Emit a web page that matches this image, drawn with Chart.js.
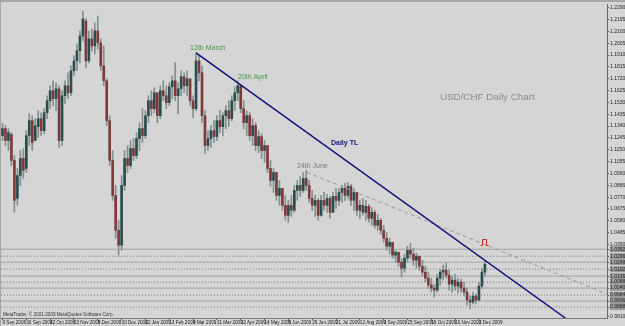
<!DOCTYPE html>
<html>
<head>
<meta charset="utf-8">
<title>USD/CHF Daily Chart</title>
<script src="https://cdn.jsdelivr.net/npm/chart.js@4.4.1/dist/chart.umd.min.js"></script>
<style>
  html, body { margin: 0; padding: 0; background: #d5d5d5; }
  canvas { display: block; }
</style>
</head>
<body>
<canvas id="chart" width="625" height="326"></canvas>
<script>
// Daily bars, Sep 2008 - Dec 2009 (each bar ~2 sessions)
const opens = [
  1.1264, 1.1320, 1.1224, 1.1272, 1.1064, 1.0760, 1.0944, 1.1080, 1.1000, 1.1264,
  1.1384, 1.1224, 1.1336, 1.1400, 1.1304, 1.1448, 1.1544, 1.1624, 1.1560, 1.1640,
  1.1224, 1.1584, 1.1664, 1.1608, 1.1784, 1.1864, 1.1944, 1.2064, 1.2184, 1.1864,
  1.2040, 1.1984, 1.2104, 1.2008, 1.1824, 1.1704, 1.1384, 1.1064, 1.0784, 1.0504,
  1.0384, 1.0864, 1.1080, 1.1024, 1.1160, 1.1104, 1.1240, 1.1320, 1.1264, 1.1424,
  1.1544, 1.1480, 1.1608, 1.1424, 1.1624, 1.1584, 1.1528, 1.1656, 1.1704, 1.1584,
  1.1640, 1.1736, 1.1664, 1.1720, 1.1544, 1.1480, 1.1864, 1.1768, 1.1424, 1.1184,
  1.1240, 1.1304, 1.1256, 1.1384, 1.1336, 1.1424, 1.1464, 1.1400, 1.1544, 1.1608,
  1.1664, 1.1480, 1.1368, 1.1424, 1.1264, 1.1344, 1.1184, 1.1256, 1.1144, 1.1184,
  1.1000, 1.0904, 1.0968, 1.0784, 1.0840, 1.0704, 1.0624, 1.0704, 1.0664, 1.0824,
  1.0864, 1.0824, 1.0920, 1.0864, 1.0760, 1.0704, 1.0744, 1.0624, 1.0744, 1.0704,
  1.0760, 1.0648, 1.0776, 1.0744, 1.0808, 1.0840, 1.0784, 1.0856, 1.0744, 1.0808,
  1.0664, 1.0704, 1.0648, 1.0696, 1.0600, 1.0648, 1.0544, 1.0584, 1.0504, 1.0440,
  1.0376, 1.0408, 1.0304, 1.0328, 1.0248, 1.0200, 1.0280, 1.0344, 1.0312, 1.0264,
  1.0296, 1.0216, 1.0168, 1.0120, 1.0064, 1.0040, 1.0024, 1.0120, 1.0168, 1.0184,
  1.0144, 1.0072, 1.0104, 1.0056, 1.0088, 1.0040, 1.0008, 0.9944, 0.9928, 0.9976,
  0.9944, 1.0056, 1.0168
];
const highs = [
  1.1360, 1.1344, 1.1320, 1.1288, 1.1104, 1.1000, 1.1144, 1.1160, 1.1304, 1.1440,
  1.1424, 1.1400, 1.1464, 1.1448, 1.1480, 1.1584, 1.1664, 1.1704, 1.1688, 1.1664,
  1.1624, 1.1704, 1.1768, 1.1824, 1.1904, 1.2000, 1.2104, 1.2264, 1.2200, 1.2104,
  1.2120, 1.2168, 1.2224, 1.2040, 1.1984, 1.1720, 1.1424, 1.1144, 1.0864, 1.0584,
  1.0944, 1.1144, 1.1184, 1.1224, 1.1240, 1.1288, 1.1368, 1.1480, 1.1464, 1.1584,
  1.1624, 1.1648, 1.1608, 1.1664, 1.1704, 1.1664, 1.1688, 1.1744, 1.1848, 1.1688,
  1.1784, 1.1768, 1.1784, 1.1720, 1.1584, 1.1928, 1.1904, 1.1824, 1.1464, 1.1304,
  1.1344, 1.1384, 1.1424, 1.1464, 1.1448, 1.1504, 1.1544, 1.1584, 1.1656, 1.1704,
  1.1672, 1.1544, 1.1464, 1.1448, 1.1400, 1.1368, 1.1304, 1.1280, 1.1224, 1.1184,
  1.1064, 1.1000, 1.0968, 1.0904, 1.0840, 1.0784, 1.0744, 1.0784, 1.0864, 1.0904,
  1.0936, 1.0968, 1.0984, 1.0904, 1.0824, 1.0784, 1.0760, 1.0784, 1.0808, 1.0792,
  1.0776, 1.0808, 1.0840, 1.0840, 1.0864, 1.0880, 1.0888, 1.0872, 1.0840, 1.0808,
  1.0744, 1.0760, 1.0744, 1.0712, 1.0688, 1.0664, 1.0632, 1.0600, 1.0544, 1.0488,
  1.0440, 1.0408, 1.0344, 1.0328, 1.0280, 1.0312, 1.0376, 1.0400, 1.0360, 1.0320,
  1.0296, 1.0264, 1.0216, 1.0168, 1.0120, 1.0072, 1.0152, 1.0192, 1.0224, 1.0240,
  1.0184, 1.0136, 1.0152, 1.0120, 1.0112, 1.0088, 1.0040, 0.9976, 1.0008, 0.9992,
  1.0088, 1.0200, 1.0256
];
const lows = [
  1.1224, 1.1184, 1.1144, 1.1024, 1.0648, 1.0704, 1.0864, 1.0920, 1.0968, 1.1184,
  1.1144, 1.1224, 1.1248, 1.1264, 1.1280, 1.1400, 1.1480, 1.1504, 1.1464, 1.1168,
  1.1184, 1.1520, 1.1560, 1.1584, 1.1744, 1.1784, 1.1848, 1.2024, 1.1808, 1.1848,
  1.1944, 1.1920, 1.1960, 1.1784, 1.1664, 1.1344, 1.1024, 1.0744, 1.0440, 1.0304,
  1.0344, 1.0824, 1.0968, 1.1000, 1.1064, 1.1080, 1.1144, 1.1208, 1.1240, 1.1368,
  1.1424, 1.1448, 1.1368, 1.1400, 1.1544, 1.1480, 1.1504, 1.1560, 1.1544, 1.1440,
  1.1584, 1.1608, 1.1584, 1.1504, 1.1408, 1.1464, 1.1704, 1.1368, 1.1120, 1.1144,
  1.1168, 1.1208, 1.1224, 1.1288, 1.1264, 1.1320, 1.1336, 1.1384, 1.1464, 1.1544,
  1.1448, 1.1320, 1.1264, 1.1224, 1.1184, 1.1144, 1.1128, 1.1080, 1.1048, 1.0968,
  1.0856, 1.0808, 1.0744, 1.0704, 1.0664, 1.0584, 1.0568, 1.0616, 1.0648, 1.0744,
  1.0776, 1.0808, 1.0824, 1.0728, 1.0664, 1.0616, 1.0584, 1.0616, 1.0664, 1.0648,
  1.0600, 1.0648, 1.0680, 1.0704, 1.0728, 1.0744, 1.0760, 1.0704, 1.0664, 1.0624,
  1.0600, 1.0624, 1.0584, 1.0568, 1.0544, 1.0520, 1.0504, 1.0472, 1.0408, 1.0344,
  1.0312, 1.0280, 1.0248, 1.0216, 1.0128, 1.0168, 1.0248, 1.0280, 1.0224, 1.0200,
  1.0184, 1.0136, 1.0088, 1.0040, 1.0008, 0.9968, 1.0008, 1.0064, 1.0104, 1.0120,
  1.0024, 1.0008, 1.0024, 1.0000, 1.0008, 0.9976, 0.9904, 0.9872, 0.9912, 0.9912,
  0.9936, 1.0040, 1.0136
];
const closes = [
  1.1320, 1.1224, 1.1288, 1.1064, 1.0744, 1.0944, 1.1080, 1.0984, 1.1264, 1.1384,
  1.1208, 1.1344, 1.1400, 1.1304, 1.1448, 1.1544, 1.1624, 1.1560, 1.1640, 1.1224,
  1.1584, 1.1664, 1.1608, 1.1784, 1.1864, 1.1944, 1.2064, 1.2200, 1.1864, 1.2040,
  1.1984, 1.2104, 1.2008, 1.1824, 1.1704, 1.1384, 1.1064, 1.0784, 1.0504, 1.0384,
  1.0864, 1.1080, 1.1024, 1.1160, 1.1104, 1.1240, 1.1320, 1.1264, 1.1424, 1.1544,
  1.1480, 1.1608, 1.1424, 1.1624, 1.1584, 1.1528, 1.1656, 1.1704, 1.1584, 1.1640,
  1.1736, 1.1664, 1.1720, 1.1544, 1.1480, 1.1864, 1.1768, 1.1424, 1.1184, 1.1240,
  1.1304, 1.1256, 1.1384, 1.1336, 1.1424, 1.1464, 1.1400, 1.1544, 1.1608, 1.1664,
  1.1480, 1.1368, 1.1424, 1.1264, 1.1344, 1.1184, 1.1256, 1.1144, 1.1184, 1.1000,
  1.0904, 1.0968, 1.0784, 1.0840, 1.0704, 1.0624, 1.0704, 1.0664, 1.0824, 1.0864,
  1.0824, 1.0920, 1.0864, 1.0760, 1.0704, 1.0744, 1.0624, 1.0744, 1.0704, 1.0760,
  1.0648, 1.0776, 1.0744, 1.0808, 1.0840, 1.0784, 1.0856, 1.0744, 1.0808, 1.0664,
  1.0704, 1.0648, 1.0696, 1.0600, 1.0648, 1.0544, 1.0584, 1.0504, 1.0440, 1.0376,
  1.0408, 1.0304, 1.0328, 1.0248, 1.0200, 1.0280, 1.0344, 1.0312, 1.0264, 1.0296,
  1.0216, 1.0168, 1.0120, 1.0064, 1.0040, 1.0024, 1.0120, 1.0168, 1.0184, 1.0144,
  1.0072, 1.0104, 1.0056, 1.0088, 1.0040, 1.0008, 0.9944, 0.9928, 0.9976, 0.9944,
  1.0056, 1.0168, 1.0232
];

// Time axis labels (bar index -> date)
const tickIdx = [0, 8, 16, 24, 32, 40, 48, 56, 64, 72, 80, 88, 96, 104, 112, 120, 128, 136, 144, 152, 160];
const tickLabels = [
  '9 Sep 2008', '30 Sep 2008', '22 Oct 2008', '13 Nov 2008', '5 Dec 2008', '30 Dec 2008',
  '22 Jan 2009', '13 Feb 2009', '9 Mar 2009', '31 Mar 2009', '22 Apr 2009', '14 May 2009',
  '5 Jun 2009', '29 Jun 2009', '21 Jul 2009', '12 Aug 2009', '3 Sep 2009', '25 Sep 2009',
  '19 Oct 2009', '10 Nov 2009', '2 Dec 2009'
];

// Price axis labels
const priceTicks = [
  1.2290, 1.2195, 1.2100, 1.2005, 1.1910, 1.1815, 1.1720, 1.1625, 1.1530, 1.1435, 1.1340,
  1.1245, 1.1150, 1.1055, 1.0960, 1.0865, 1.0770, 1.0675, 1.0580, 1.0485, 1.0390, 0.9810
];

// Horizontal price levels
const levels = [1.0352, 1.0296, 1.0248, 1.0192, 1.0136, 1.0088, 1.0040, 0.9984, 0.9936, 0.9888];

// Trend lines: [barIndex, price]
const dailyTL = [[65, 1.1928], [189, 0.9800]];
const juneLine = [[102.3, 1.0968], [203, 0.9992]];

const X_MIN = -0.5, X_MAX = 203;
const Y_MIN = 0.9800, Y_MAX = 1.2320;

// Chart text notes, positioned in data units
const notes = [
  { text: '12th March', x: 63, y: 1.1968, color: '#3f9a3f', font: '7px "Liberation Sans", Arial' },
  { text: '20th April', x: 79.1, y: 1.1736, color: '#3f9a3f', font: '7px "Liberation Sans", Arial' },
  { text: '24th June', x: 98.9, y: 1.1016, color: '#7c7c7c', font: '7px "Liberation Sans", Arial' },
  { text: 'Daily TL', x: 110.3, y: 1.1200, color: '#16167e', font: 'bold 7px "Liberation Sans", Arial' },
  { text: 'USD/CHF Daily Chart', x: 146.9, y: 1.1568, color: '#8a8a8a', font: '9.8px "Liberation Sans", Arial' }
];

const bull = closes.map((c, i) => c >= opens[i]);

const backgroundPlugin = {
  id: 'mtBackground',
  beforeDraw(chart) {
    const ctx = chart.ctx;
    ctx.save();
    ctx.fillStyle = '#d5d5d5';
    ctx.fillRect(0, 0, chart.width, chart.height);
    ctx.fillStyle = '#a6a6a6';
    ctx.fillRect(0, 0, chart.width, 2);
    ctx.fillRect(0, 0, 1, chart.height);
    ctx.restore();
  }
};

const notesPlugin = {
  id: 'mtNotes',
  afterDatasetsDraw(chart) {
    const ctx = chart.ctx;
    const xs = chart.scales.x, ys = chart.scales.y;
    ctx.save();
    ctx.textAlign = 'left';
    ctx.textBaseline = 'middle';
    notes.forEach(n => {
      ctx.font = n.font;
      ctx.fillStyle = n.color;
      ctx.fillText(n.text, xs.getPixelForValue(n.x), ys.getPixelForValue(n.y));
    });

    // red marker above the break of the trend line
    const mx = Math.round(xs.getPixelForValue(161.7)) + 0.5;
    const my = Math.round(ys.getPixelForValue(1.0408)) + 0.5;
    ctx.strokeStyle = '#d02828';
    ctx.lineWidth = 1;
    ctx.beginPath();
    ctx.moveTo(mx - 4, my + 3);
    ctx.lineTo(mx - 2, my + 3);
    ctx.lineTo(mx - 2, my - 3);
    ctx.lineTo(mx + 2, my - 3);
    ctx.lineTo(mx + 2, my + 3);
    ctx.lineTo(mx + 4, my + 3);
    ctx.stroke();

    // terminal watermark
    ctx.font = '4.6px "Liberation Sans", Arial';
    ctx.fillStyle = '#333';
    ctx.textBaseline = 'alphabetic';
    ctx.fillText('MetaTrader, \u00a9 2001-2009 MetaQuotes Software Corp.', chart.chartArea.left + 2, chart.chartArea.bottom - 2);
    ctx.restore();
  }
};

const levelSets = levels.map((v, i) => ({
  type: 'line',
  data: [{ x: X_MIN, y: v }, { x: X_MAX, y: v }],
  borderColor: i % 2 === 0 ? '#a2a2a2' : '#7a7a7a',
  borderDash: i % 2 === 0 ? [] : [1, 2],
  borderWidth: 1,
  pointRadius: 0,
  order: 10
}));

new Chart(document.getElementById('chart'), {
  type: 'bar',
  data: {
    datasets: [
      {
        type: 'line',
        data: dailyTL.map(p => ({ x: p[0], y: p[1] })),
        borderColor: '#10107a',
        borderWidth: 1.5,
        pointRadius: 0,
        order: 0
      },
      {
        type: 'line',
        data: juneLine.map(p => ({ x: p[0], y: p[1] })),
        borderColor: '#9a9a9a',
        borderDash: [4, 3],
        borderWidth: 1,
        pointRadius: 0,
        order: 0
      },
      {
        data: highs.map((h, i) => ({ x: i, y: [lows[i], h] })),
        backgroundColor: '#839090',
        barThickness: 1,
        grouped: false,
        order: 3
      },
      {
        data: opens.map((o, i) => ({ x: i, y: [o, closes[i]] })),
        backgroundColor: bull.map(b => b ? '#2a4e4e' : '#7e3a3a'),
        barThickness: 2,
        minBarLength: 1,
        grouped: false,
        order: 2
      },
      ...levelSets
    ]
  },
  options: {
    responsive: false,
    animation: false,
    devicePixelRatio: 1,
    layout: { padding: { top: 3, left: 1, right: 0, bottom: 0 } },
    plugins: {
      legend: { display: false },
      tooltip: { enabled: false }
    },
    scales: {
      x: {
        type: 'linear',
        min: X_MIN,
        max: X_MAX,
        offset: false,
        afterBuildTicks: scale => { scale.ticks = tickIdx.map(v => ({ value: v })); },
        afterFit: scale => { scale.height = 8; },
        grid: { drawOnChartArea: false, drawTicks: true, tickLength: 2, color: '#555', offset: false },
        border: { display: true, color: '#7a7a7a' },
        ticks: {
          autoSkip: false,
          maxRotation: 0,
          align: 'start',
          padding: 0,
          color: '#222',
          font: { size: 4.6, family: '"Liberation Sans", Arial' },
          callback: (v, i) => tickLabels[i]
        }
      },
      y: {
        position: 'right',
        min: Y_MIN,
        max: Y_MAX,
        afterBuildTicks: scale => {
          scale.ticks = priceTicks.concat(levels).map(v => ({ value: v }));
        },
        afterFit: scale => { scale.width = 18; },
        grid: { drawOnChartArea: false, drawTicks: true, tickLength: 2, color: '#555' },
        border: { display: true, color: '#6a6a6a' },
        ticks: {
          autoSkip: false,
          padding: 1,
          color: '#222',
          font: { size: 5, family: '"Liberation Sans", Arial' },
          showLabelBackdrop: ctx => levels.includes(ctx.tick.value),
          backdropColor: '#9c9c9c',
          backdropPadding: 0,
          callback: v => v.toFixed(4)
        }
      }
    }
  },
  plugins: [backgroundPlugin, notesPlugin]
});
</script>
</body>
</html>
